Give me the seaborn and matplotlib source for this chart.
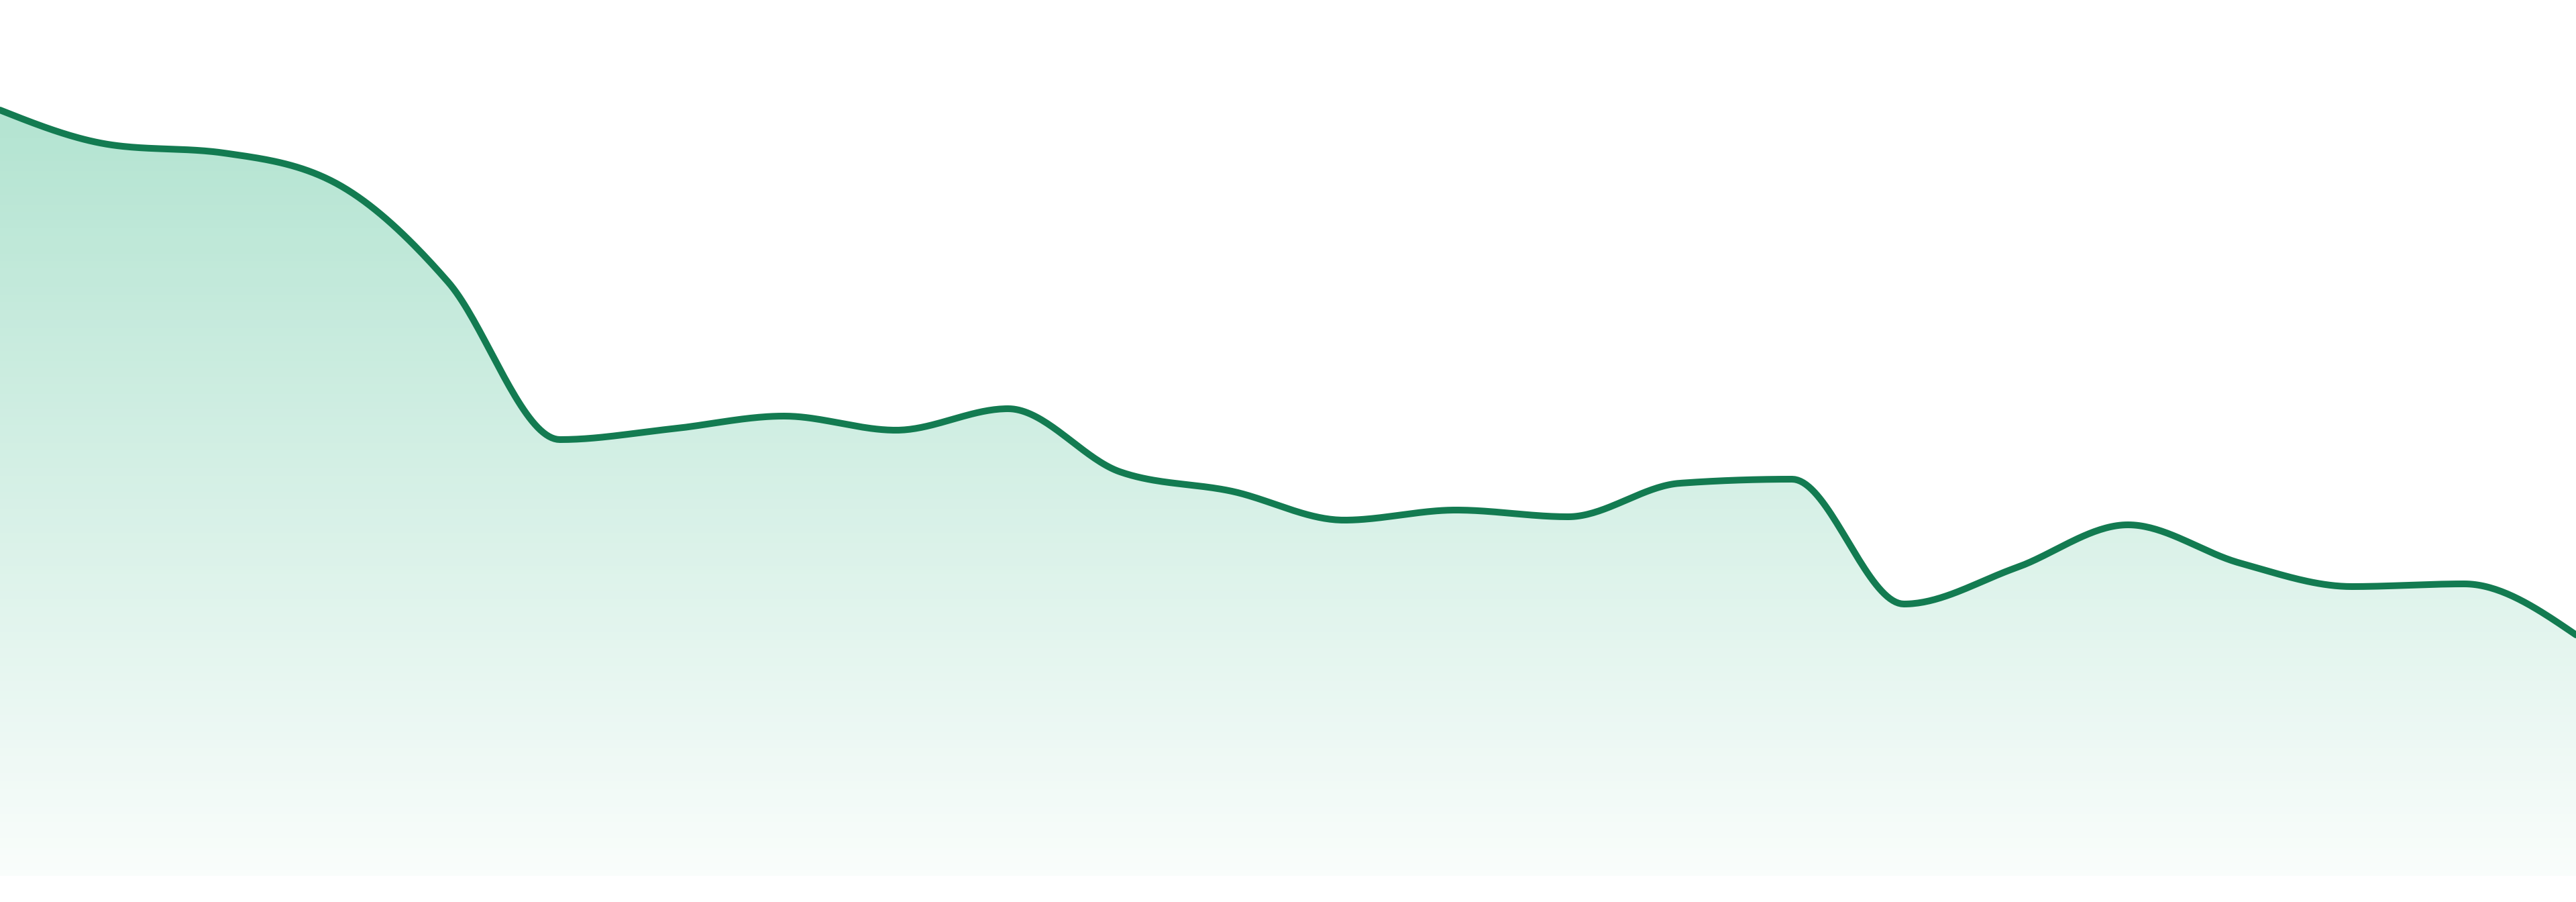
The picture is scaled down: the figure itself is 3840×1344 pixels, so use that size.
import numpy as np
import matplotlib
matplotlib.use("Agg")
import matplotlib.pyplot as plt
from matplotlib.patches import Polygon
import seaborn as sns

# Werte ablesen: 24 Punkte in gleichem Abstand
x_index = list(range(24))
values = [114.1, 108.9, 107.7, 103.2, 88.5, 65.0, 66.6, 68.5, 66.4, 69.6,
          60.2, 57.3, 53.0, 54.5, 53.5, 58.5, 59.1, 40.5, 45.9, 52.3,
          46.6, 43.1, 43.5, 35.9]

line_color = "#137B51"
fill_rgb = (61 / 255, 186 / 255, 138 / 255)


def monotone_curve(x, y, n=40):
    # monotone kubische Interpolation (wie d3 curveMonotoneX)
    x = np.asarray(x, dtype=float)
    y = np.asarray(y, dtype=float)
    h = np.diff(x)
    s = np.diff(y) / h
    m = np.zeros_like(y)
    for i in range(1, len(y) - 1):
        p = (s[i - 1] * h[i] + s[i] * h[i - 1]) / (h[i - 1] + h[i])
        m[i] = (np.sign(s[i - 1]) + np.sign(s[i])) * min(abs(s[i - 1]), abs(s[i]), 0.5 * abs(p))
    m[0] = (3 * s[0] - m[1]) / 2
    m[-1] = (3 * s[-1] - m[-2]) / 2
    xs, ys = [], []
    for i in range(len(y) - 1):
        t = np.linspace(0, 1, n, endpoint=(i == len(y) - 2))
        h00 = 2 * t**3 - 3 * t**2 + 1
        h10 = t**3 - 2 * t**2 + t
        h01 = -2 * t**3 + 3 * t**2
        h11 = t**3 - t**2
        xs.append(x[i] + t * h[i])
        ys.append(h00 * y[i] + h10 * h[i] * m[i] + h01 * y[i + 1] + h11 * h[i] * m[i + 1])
    return np.concatenate(xs), np.concatenate(ys)


xs, ys = monotone_curve(x_index, values)

sns.set_theme(style="white")
fig = plt.figure(figsize=(38.4, 13.44), dpi=100)
ax = fig.add_axes([0, 0, 1, 1])

x_max = x_index[-1]
# Verlauf unter der Linie
y_top = 114.5
grad_y = np.linspace(0, y_top, 300)
alpha = np.clip(0.03 + 0.00318 * grad_y, 0, 1)
grad = np.zeros((len(grad_y), 1, 4))
grad[:, 0, 0] = fill_rgb[0]
grad[:, 0, 1] = fill_rgb[1]
grad[:, 0, 2] = fill_rgb[2]
grad[:, 0, 3] = alpha
img = ax.imshow(grad, extent=[0, x_max, 0, y_top], origin="lower", aspect="auto", zorder=1)
poly_xy = np.column_stack([np.r_[xs, xs[-1], xs[0]], np.r_[ys, 0, 0]])
clip = Polygon(poly_xy, closed=True, facecolor="none", edgecolor="none")
ax.add_patch(clip)
img.set_clip_path(clip)

sns.lineplot(x=xs, y=ys, sort=False, estimator=None, color=line_color,
             linewidth=7.2, ax=ax, zorder=3)
ax.set_xlim(0, x_max)
ax.set_ylim(-3.9, 130.5)
ax.axis("off")

fig.savefig("out.png", dpi=100, facecolor="white")
